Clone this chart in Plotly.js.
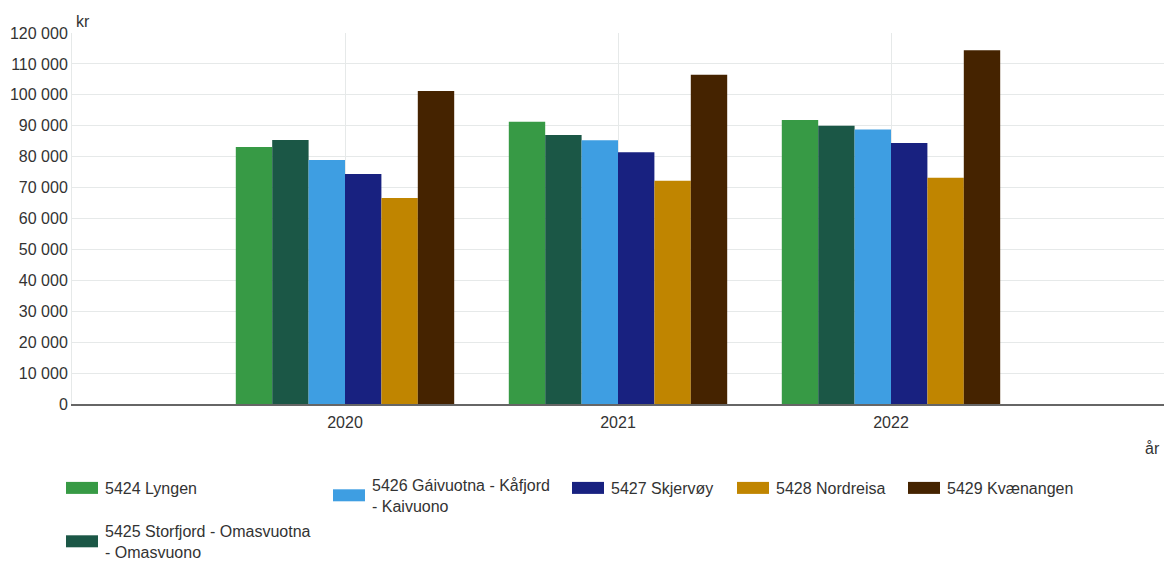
<!DOCTYPE html>
<html>
<head>
<meta charset="utf-8">
<script src="https://cdn.plot.ly/plotly-3.0.1.min.js"></script>
<style>
html,body{margin:0;padding:0;background:#fff;}
#chart{width:1164px;height:561px;}
</style>
</head>
<body>
<div id="chart"></div>
<script>
const years = ["2020", "2021", "2022"];
const seriesNames = [
  "5424 Lyngen",
  "5425 Storfjord - Omasvuotna<br>- Omasvuono",
  "5426 Gáivuotna - Kåfjord<br>- Kaivuono",
  "5427 Skjervøy",
  "5428 Nordreisa",
  "5429 Kvænangen"
];
const lyngen = [83100, 91300, 91900];
const storfjord = [85400, 87000, 90000];
const gaivuotna = [78900, 85300, 88800];
const skjervoy = [74400, 81400, 84400];
const nordreisa = [66600, 72200, 73200];
const kvaenangen = [101200, 106500, 114400];
const seriesValues = [lyngen, storfjord, gaivuotna, skjervoy, nordreisa, kvaenangen];
const colors = ["#379a45", "#1b5746", "#3e9ee2", "#182180", "#c08500", "#452300"];

const W = 1164, H = 561;
// legend placement (pixels: swatch left, legend top)
const legendPos = [[66, 471], [66, 514], [333, 468], [572, 471], [737, 471], [908, 471]];

const font = {family: "'Liberation Sans', Arial, sans-serif", size: 16, color: "#333333"};

const traces = seriesNames.map((name, i) => ({
  type: "bar",
  name: name,
  x: years,
  y: seriesValues[i],
  marker: {color: colors[i], line: {width: 0}},
  legend: i === 0 ? "legend" : "legend" + (i + 1),
  showlegend: true,
  hoverinfo: "x+y+name"
}));

const layout = {
  width: W, height: H,
  margin: {l: 72, r: 0, t: 33, b: 157, autoexpand: false},
  paper_bgcolor: "#ffffff",
  plot_bgcolor: "#ffffff",
  font: font,
  separators: ", ",
  barmode: "group",
  bargap: 0.2,
  bargroupgap: 0,
  showlegend: true,
  xaxis: {
    type: "category",
    range: [-1, 3],
    automargin: false,
    showgrid: true,
    gridcolor: "#e6e9e9",
    gridwidth: 1,
    showline: true,
    linecolor: "#666666",
    linewidth: 2,
    ticks: "",
    ticklabelstandoff: 3,
    tickfont: font,
    zeroline: false,
    fixedrange: true
  },
  yaxis: {
    range: [0, 120000],
    dtick: 10000,
    tickformat: ",d",
    automargin: false,
    showgrid: true,
    gridcolor: "#e6e9e9",
    gridwidth: 1,
    showline: true,
    linecolor: "#e6e9e9",
    linewidth: 1,
    zeroline: false,
    ticks: "",
    tickfont: font,
    fixedrange: true
  },
  annotations: [
    {text: "kr", xref: "paper", yref: "paper", x: (74 - 72) / 1092, y: (404 - 21) / 371,
     xanchor: "left", yanchor: "middle", showarrow: false, font: font},
    {text: "år", xref: "paper", yref: "paper", x: (1162 - 72) / 1092, y: (404 - 448) / 371,
     xanchor: "right", yanchor: "middle", showarrow: false, font: font}
  ]
};

legendPos.forEach((p, i) => {
  const key = i === 0 ? "legend" : "legend" + (i + 1);
  layout[key] = {
    xref: "container", yref: "container",
    x: (p[0] - 1) / W, y: 1 - p[1] / H,
    xanchor: "left", yanchor: "top",
    orientation: "v",
    bgcolor: "rgba(0,0,0,0)",
    borderwidth: 0,
    font: font,
    itemclick: false, itemdoubleclick: false
  };
});

const gd = document.getElementById("chart");
function widenSwatches() {
  gd.querySelectorAll(".legendpoints path").forEach(p => {
    p.setAttribute("d", "M13,6H-19V-6H13Z");
  });
}
Plotly.newPlot(gd, traces, layout, {displayModeBar: false, staticPlot: true}).then(() => {
  widenSwatches();
  gd.on && gd.on("plotly_afterplot", widenSwatches);
  setTimeout(widenSwatches, 50);
  setTimeout(widenSwatches, 300);
});
</script>
</body>
</html>
